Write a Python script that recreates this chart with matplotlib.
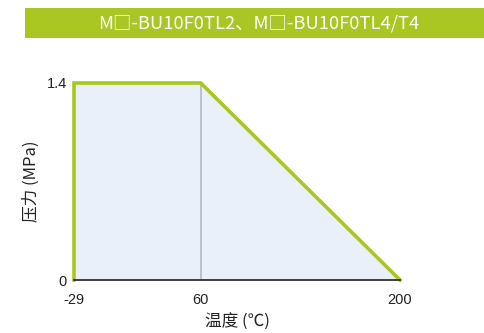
import matplotlib
matplotlib.use("Agg")
import matplotlib.pyplot as plt
from matplotlib.patches import Rectangle

plt.rcParams['font.family'] = ['Liberation Sans', 'Noto Sans CJK SC', 'DejaVu Sans']

temps = [-29, 60, 200]
pressures = [1.4, 1.4, 0]
xticks = [-29, 60, 200]
yticks = [0, 1.4]
title = "M□-BU10F0TL2、M□-BU10F0TL4/T4"
xlabel = "温度 (℃)"
ylabel = "压力 (MPa)"

green = "#A9C623"
W, H = 484, 333
fig = plt.figure(figsize=(W/100, H/100), dpi=100)

# banner
fig.patches.append(Rectangle((25/W, 1-38/H), 1-25/W, 30/H, transform=fig.transFigure,
                             facecolor=green, edgecolor='none'))
fig.text(259/W, 1-23/H, title, color='white', fontsize=13.2,
         ha='center', va='center', family=['Noto Sans CJK SC', 'DejaVu Sans'])

ax = fig.add_axes([74/W, 1-280/H, (400-74)/W, (280-83)/H])
xs = [temps[0]] + temps
ys = [0] + pressures
ax.fill_between(temps, pressures, 0, color='#E9F0FA', zorder=1)
ax.plot([60, 60], [0, 1.4], color='#B5B9BE', lw=1.2, zorder=2)
ax.plot(xs, ys, color=green, lw=2.6, zorder=3, solid_joinstyle='miter', clip_on=False)
ax.set_xlim(-29, 200)
ax.set_ylim(0, 1.4)
ax.set_xticks(xticks)
ax.set_xticklabels([str(t) for t in xticks])
ax.set_yticks(yticks)
ax.set_yticklabels(['0', '1.4'])
for s in ['top', 'right', 'left']:
    ax.spines[s].set_visible(False)
ax.spines['bottom'].set_color('#222222')
ax.spines['bottom'].set_linewidth(1.2)
ax.spines['bottom'].set_zorder(4)
ax.tick_params(length=0, labelsize=10.5, colors='#222222', pad=5)
ax.tick_params(axis='x', pad=9)
ax.set_xlabel(xlabel, fontsize=12, color='#222222', labelpad=5,
              family=['Noto Sans CJK SC', 'DejaVu Sans'])
ax.set_ylabel(ylabel, fontsize=12, color='#222222', labelpad=5,
              family=['Noto Sans CJK SC', 'DejaVu Sans'])
fig.savefig("out.png", dpi=100)
